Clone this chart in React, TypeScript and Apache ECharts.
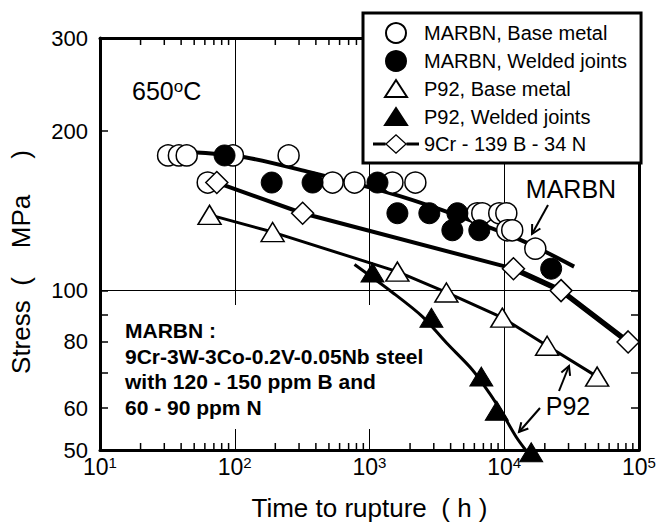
import React, { useEffect, useRef } from 'react';
import * as echarts from 'echarts';

const FONT = '"Liberation Sans", Arial, Helvetica, sans-serif';

// ---- data (time to rupture in h, stress in MPa) ----
const marbnBaseT = [32, 38.5, 44, 97, 251, 63, 532, 774, 1480, 2190, 6310, 6870, 9180, 10360, 10520, 11460, 17000];
const marbnBaseS = [180, 180, 180, 180, 180, 160, 160, 160, 160, 160, 140, 140, 140, 140, 130, 130, 120];

const marbnWeldT = [84, 188, 378, 1146, 1611, 2780, 4490, 4120, 6530, 22300];
const marbnWeldS = [180, 160, 160, 160, 140, 140, 140, 130, 130, 110];

const p92BaseT = [65, 191, 1610, 3720, 9670, 20800, 48900];
const p92BaseS = [139, 129, 108.6, 99.2, 88.9, 78.7, 68.8];

const p92WeldT = [1052, 2880, 6760, 8800, 15850];
const p92WeldS = [108.2, 88.9, 68.8, 59.3, 49.5];

const cr9T = [73.6, 319, 11700, 26400, 83000];
const cr9S = [160, 140, 110, 100, 80];

// fitted curves
const marbnFitT = [44, 119, 359, 1336, 3300, 12900, 33000];
const marbnFitS = [183, 178.6, 167.4, 153.5, 142.5, 125, 111];

const p92WeldFitT = [774, 1480, 2470, 3720, 5790, 7740, 9660, 12270, 14400];
const p92WeldFitS = [112, 99.2, 89.3, 79.7, 70.9, 64.1, 58.7, 52.9, 50];

// ---- axis ticks ----
const xDecades = [10, 100, 1000, 10000, 100000];
const xMinorMultipliers = [2, 3, 4, 5, 6, 7, 8, 9];
const yTickValues = [50, 60, 70, 80, 90, 100, 200, 300];
const yLabelValues = [50, 60, 80, 100, 200, 300];
const yMin = 50;
const yMax = 300;

const legendNames = [
  'MARBN, Base metal',
  'MARBN, Welded joints',
  'P92, Base metal',
  'P92, Welded joints',
  '9Cr - 139 B - 34 N',
];

const annotationLines = [
  'MARBN :',
  '9Cr-3W-3Co-0.2V-0.05Nb steel',
  'with 120 - 150 ppm B and',
  '60 - 90 ppm N',
];

function pairs(t: number[], s: number[]) {
  return t.map((v, i) => [v, s[i]]);
}

function arrow(from: [number, number], tip: [number, number], len = 10) {
  const dx = tip[0] - from[0];
  const dy = tip[1] - from[1];
  const L = Math.hypot(dx, dy);
  const ux = dx / L;
  const uy = dy / L;
  const a = (28 * Math.PI) / 180;
  const rot = (ang: number) => [
    tip[0] - len * (ux * Math.cos(ang) - uy * Math.sin(ang)),
    tip[1] - len * (ux * Math.sin(ang) + uy * Math.cos(ang)),
  ];
  return [
    {
      type: 'line',
      z: 10,
      shape: { x1: from[0], y1: from[1], x2: tip[0], y2: tip[1] },
      style: { stroke: '#000', lineWidth: 2 },
    },
    {
      type: 'polyline',
      z: 10,
      shape: { points: [rot(a), tip, rot(-a)] },
      style: { stroke: '#000', lineWidth: 2, fill: null },
    },
  ];
}

export default function App() {
  const ref = useRef<HTMLDivElement>(null);

  useEffect(() => {
    document.body.style.margin = '0';
    if (!ref.current) return;
    const chart = echarts.init(ref.current, undefined, { renderer: 'svg' });

    const minorX: number[] = [];
    for (let i = 0; i < xDecades.length - 1; i++) {
      for (const m of xMinorMultipliers) minorX.push(m * xDecades[i]);
    }

    const axisLineStyle = { color: '#000', width: 3 };
    const tickLineStyle = { color: '#000', width: 1.5 };

    const xRich = {
      b: { fontSize: 23, lineHeight: 23, padding: [8, 0, 0, 0], verticalAlign: 'bottom', color: '#000', fontFamily: FONT },
      s: { fontSize: 15, lineHeight: 15, verticalAlign: 'top', color: '#000', fontFamily: FONT },
    };

    const black = '#000';
    const openStyle = { color: '#fff', borderColor: black, borderWidth: 1.5, opacity: 1 };
    const filledStyle = { color: black, borderColor: black, borderWidth: 1, opacity: 1 };

    const logX = { type: 'log', logBase: 10, min: 10, max: 100000 };
    const logY = { type: 'log', logBase: 10, min: yMin, max: yMax };

    // legend icons: bbox pinned to the 46x20 legend icon box so they are not stretched
    const triIcon = 'path://M0,0M46,20M12,18L23,1L34,18Z';
    const cr9Icon =
      'path://M0,0M46,20' +
      'M0,8.5L12.5,8.5L12.5,11.5L0,11.5Z' +
      'M33.5,8.5L46,8.5L46,11.5L33.5,11.5Z' +
      'M12,10L23,0L34,10L23,20Z' +
      'M13.9,10L23,18.3L32.1,10L23,1.7Z';

    const option: any = {
      animation: false,
      backgroundColor: '#fff',
      textStyle: { fontFamily: FONT },
      grid: { left: 100, right: 17, top: 38, bottom: 80, containLabel: false, outerBoundsMode: 'none' },
      legend: {
        data: [
          { name: legendNames[0] },
          { name: legendNames[1] },
          { name: legendNames[2], icon: triIcon },
          { name: legendNames[3], icon: triIcon },
          { name: legendNames[4], icon: cr9Icon, itemStyle: { color: '#000', borderWidth: 0 } },
        ],
        orient: 'vertical',
        left: 363,
        top: 13,
        padding: [9, 14, 9, 9],
        itemGap: 6,
        itemWidth: 46,
        itemHeight: 20,
        backgroundColor: '#fff',
        borderColor: '#000',
        borderWidth: 3,
        borderRadius: 0,
        selectedMode: false,
        textStyle: { fontSize: 20, color: '#000', fontFamily: FONT },
        z: 6,
      },
      xAxis: [
        {
          ...logX,
          position: 'bottom',
          axisLine: { show: true, onZero: false, lineStyle: axisLineStyle },
          axisTick: { show: false },
          axisLabel: {
            show: true,
            margin: 5,
            formatter: (v: number) => `{b|10}{s|${Math.round(Math.log10(v))}}`,
            rich: xRich,
          },
          splitLine: { show: true, lineStyle: { color: '#000', width: 1 } },
          name: 'Time to rupture  ( h )',
          nameLocation: 'middle',
          nameGap: 45,
          nameTextStyle: { fontSize: 26, color: '#000', fontFamily: FONT },
        },
        {
          ...logX,
          position: 'top',
          axisLine: { show: true, onZero: false, lineStyle: axisLineStyle },
          axisTick: { show: false },
          axisLabel: { show: false },
          splitLine: { show: false },
        },
      ],
      yAxis: [
        {
          ...logY,
          position: 'left',
          axisLine: { show: true, onZero: false, lineStyle: axisLineStyle },
          axisTick: { show: false },
          axisLabel: { show: false },
          splitLine: { show: true, lineStyle: { color: '#000', width: 1 } },
          name: 'Stress  (    MPa     )',
          nameLocation: 'middle',
          nameGap: 66,
          nameTextStyle: { fontSize: 26, color: '#000', fontFamily: FONT, padding: [0, 36, 0, 0] },
        },
        {
          ...logY,
          position: 'left',
          axisLine: { show: false, onZero: false },
          axisTick: { show: true, inside: true, length: 8, customValues: yTickValues, lineStyle: tickLineStyle },
          axisLabel: { show: true, customValues: yLabelValues, fontSize: 22, margin: 12, color: '#000', fontFamily: FONT },
          splitLine: { show: false },
        },
        {
          ...logY,
          position: 'right',
          axisLine: { show: true, onZero: false, lineStyle: axisLineStyle },
          axisTick: { show: true, inside: true, length: 8, customValues: yTickValues, lineStyle: tickLineStyle },
          axisLabel: { show: false },
          splitLine: { show: false },
        },
      ],
      series: [
        {
          // minor log ticks on the bottom and top frame edges
          type: 'custom',
          data: minorX.map((v) => [v, yMin]),
          silent: true,
          clip: false,
          z: 1,
          renderItem: (_p: any, api: any) => {
            const v = api.value(0);
            const pb = api.coord([v, yMin]);
            const pt = api.coord([v, yMax]);
            const st = { stroke: '#000', lineWidth: 1.5 };
            return {
              type: 'group',
              children: [
                { type: 'line', shape: { x1: pb[0], y1: pb[1], x2: pb[0], y2: pb[1] - 7 }, style: st },
                { type: 'line', shape: { x1: pt[0], y1: pt[1], x2: pt[0], y2: pt[1] + 7 }, style: st },
              ],
            };
          },
        },
        {
          type: 'line',
          data: pairs(marbnFitT, marbnFitS),
          symbol: 'none',
          smooth: 0.3,
          lineStyle: { color: black, width: 4 },
          silent: true,
          z: 2,
        },
        {
          type: 'line',
          data: pairs(p92BaseT, p92BaseS),
          symbol: 'none',
          lineStyle: { color: black, width: 3 },
          silent: true,
          z: 2,
        },
        {
          type: 'line',
          data: pairs(p92WeldFitT, p92WeldFitS),
          symbol: 'none',
          smooth: 0.3,
          lineStyle: { color: black, width: 3 },
          silent: true,
          z: 2,
        },
        {
          // thicker long-term segment of the 9Cr line
          type: 'line',
          data: pairs(cr9T.slice(2), cr9S.slice(2)),
          symbol: 'none',
          lineStyle: { color: black, width: 5.5 },
          silent: true,
          z: 2,
        },
        {
          name: legendNames[0],
          type: 'scatter',
          data: pairs(marbnBaseT, marbnBaseS),
          symbol: 'circle',
          symbolSize: 21,
          itemStyle: openStyle,
          z: 3,
        },
        {
          name: legendNames[1],
          type: 'scatter',
          data: pairs(marbnWeldT, marbnWeldS),
          symbol: 'circle',
          symbolSize: 21,
          itemStyle: filledStyle,
          z: 4,
        },
        {
          name: legendNames[2],
          type: 'scatter',
          data: pairs(p92BaseT, p92BaseS),
          symbol: 'triangle',
          symbolSize: [23, 19],
          itemStyle: openStyle,
          z: 3,
        },
        {
          name: legendNames[3],
          type: 'scatter',
          data: pairs(p92WeldT, p92WeldS),
          symbol: 'triangle',
          symbolSize: [23, 19],
          itemStyle: filledStyle,
          clip: false,
          z: 4,
        },
        {
          name: legendNames[4],
          type: 'line',
          data: pairs(cr9T, cr9S),
          symbol: 'diamond',
          symbolSize: 22,
          showAllSymbol: true,
          lineStyle: { color: black, width: 4 },
          itemStyle: { color: '#fff', borderColor: black, borderWidth: 1.5 },
          z: 3,
        },
      ],
      graphic: [
        {
          type: 'rect',
          z: 1,
          shape: { x: 112, y: 305, width: 318, height: 124 },
          style: { fill: '#fff' },
        },
        {
          type: 'text',
          z: 10,
          x: 125,
          y: 318,
          style: {
            text: annotationLines.join('\n'),
            fontSize: 21,
            fontWeight: 'bold',
            fontFamily: FONT,
            lineHeight: 25.5,
            fill: '#000',
          },
        },
        {
          type: 'text',
          z: 10,
          x: 132,
          y: 78,
          style: {
            text: '{a|650}{s|o}{a|C}',
            fill: '#000',
            rich: {
              a: { fontSize: 25, lineHeight: 25, padding: [5, 0, 0, 0], verticalAlign: 'bottom', fontFamily: FONT, fill: '#000' },
              s: { fontSize: 17, lineHeight: 17, verticalAlign: 'top', fontFamily: FONT, fill: '#000' },
            },
          },
        },
        {
          type: 'text',
          z: 10,
          x: 571,
          y: 189,
          style: { text: 'MARBN', fontSize: 25, fontFamily: FONT, fill: '#000', align: 'center', verticalAlign: 'middle' },
        },
        {
          type: 'text',
          z: 10,
          x: 568,
          y: 406,
          style: { text: 'P92', fontSize: 25, fontFamily: FONT, fill: '#000', align: 'center', verticalAlign: 'middle' },
        },
        ...arrow([548, 205], [532, 234]),
        ...arrow([559, 391], [569, 366]),
        ...arrow([540, 408], [519, 432]),
      ],
    };

    chart.setOption(option);
    return () => chart.dispose();
  }, []);

  return (
    <div
      ref={ref}
      style={{ position: 'absolute', left: 0, top: 0, width: 656, height: 530, background: '#fff' }}
    />
  );
}
